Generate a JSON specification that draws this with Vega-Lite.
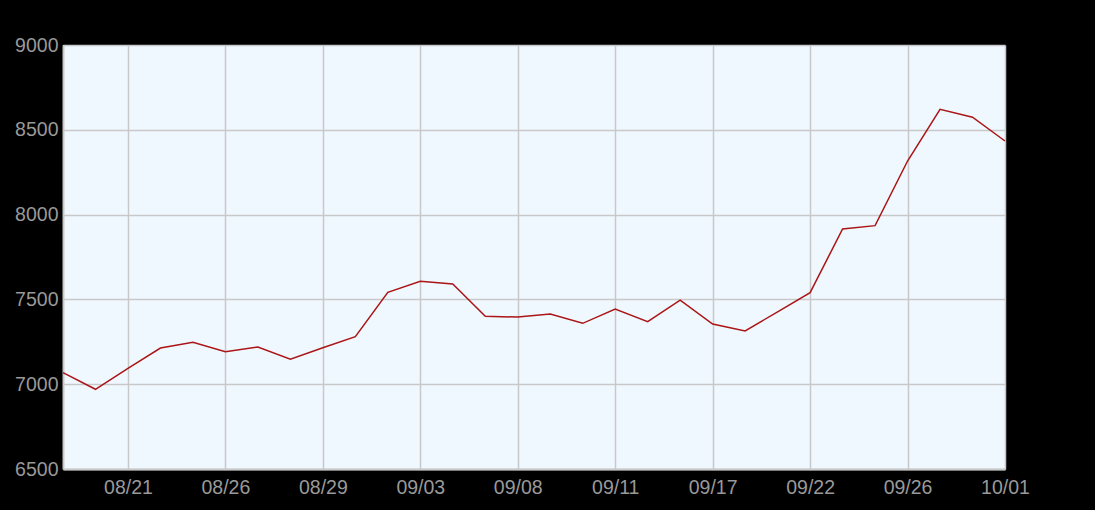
{
  "$schema": "https://vega.github.io/schema/vega-lite/v6.json",
  "autosize": "none",
  "width": 942,
  "height": 424,
  "padding": {"left": 63, "top": 45, "right": 90, "bottom": 41},
  "background": "#000000",
  "view": {"fill": "#F0F8FF", "stroke": null},
  "data": {
    "values": [
      {"date": "08/19", "value": 7068},
      {"date": "08/20", "value": 6970},
      {"date": "08/21", "value": 7094},
      {"date": "08/22", "value": 7213},
      {"date": "08/25", "value": 7247},
      {"date": "08/26", "value": 7192},
      {"date": "08/27", "value": 7219},
      {"date": "08/28", "value": 7147},
      {"date": "08/29", "value": 7215},
      {"date": "09/01", "value": 7280},
      {"date": "09/02", "value": 7542},
      {"date": "09/03", "value": 7607},
      {"date": "09/04", "value": 7591},
      {"date": "09/05", "value": 7400},
      {"date": "09/08", "value": 7396},
      {"date": "09/09", "value": 7414},
      {"date": "09/10", "value": 7359},
      {"date": "09/11", "value": 7443},
      {"date": "09/12", "value": 7369},
      {"date": "09/16", "value": 7496},
      {"date": "09/17", "value": 7355},
      {"date": "09/18", "value": 7314},
      {"date": "09/19", "value": 7427},
      {"date": "09/22", "value": 7540},
      {"date": "09/23", "value": 7915},
      {"date": "09/24", "value": 7935},
      {"date": "09/26", "value": 8316},
      {"date": "09/29", "value": 8621},
      {"date": "09/30", "value": 8574},
      {"date": "10/01", "value": 8434}
    ]
  },
  "mark": {"type": "line", "color": "#AA1515", "strokeWidth": 1.5},
  "encoding": {
    "x": {
      "field": "date",
      "type": "ordinal",
      "sort": null,
      "scale": {"type": "point", "padding": 0},
      "axis": {
        "title": null,
        "values": ["08/21", "08/26", "08/29", "09/03", "09/08", "09/11", "09/17", "09/22", "09/26", "10/01"],
        "labelAngle": 0,
        "labelFont": "Liberation Sans",
        "labelFontSize": 19.5,
        "labelColor": "#999999",
        "labelPadding": 9,
        "ticks": false,
        "grid": true,
        "gridColor": "#C8C8C8",
        "gridWidth": 1.5,
        "domainColor": "#C8C8C8",
        "domainWidth": 2,
        "labelOverlap": false
      }
    },
    "y": {
      "field": "value",
      "type": "quantitative",
      "scale": {"domain": [6500, 9000], "nice": false, "zero": false},
      "axis": {
        "title": null,
        "values": [6500, 7000, 7500, 8000, 8500, 9000],
        "format": "d",
        "labelFont": "Liberation Sans",
        "labelFontSize": 19.5,
        "labelColor": "#999999",
        "labelPadding": 5,
        "ticks": false,
        "grid": true,
        "gridColor": "#C8C8C8",
        "gridWidth": 1.5,
        "domainColor": "#C8C8C8",
        "domainWidth": 2
      }
    }
  }
}
